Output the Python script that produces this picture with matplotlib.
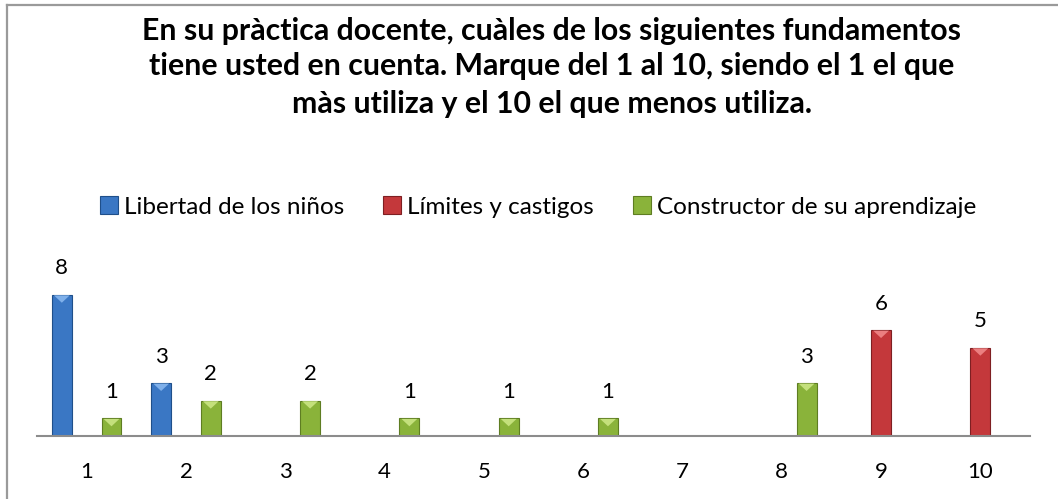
import matplotlib.pyplot as plt
import numpy as np
from matplotlib.lines import Line2D
from matplotlib.patches import Polygon

categories = ['1', '2', '3', '4', '5', '6', '7', '8', '9', '10']
series_names = ['Libertad de los niños', 'Límites y castigos', 'Constructor de su aprendizaje']
libertad = [8, 3, 0, 0, 0, 0, 0, 0, 0, 0]
limites = [0, 0, 0, 0, 0, 0, 0, 0, 6, 5]
constructor = [1, 2, 2, 1, 1, 1, 0, 3, 0, 0]

colors = ['#3a77c4', '#c4383b', '#8ab33a']
edges = ['#1f4f8a', '#7e1f22', '#5e7d22']
tops = ['#7fb0ea', '#eb7f80', '#c4e07c']

plt.rcParams['font.family'] = ['Lato', 'DejaVu Sans']

W, H = 1058, 499
fig = plt.figure(figsize=(W / 100, H / 100), dpi=100)

# page border (only top and left visible)
fig.lines.append(Line2D([7 / W, 7 / W], [0, 1 - 5 / H], transform=fig.transFigure,
                        color='#9a9a9a', linewidth=1.6))
fig.lines.append(Line2D([7 / W, 1], [1 - 5 / H, 1 - 5 / H], transform=fig.transFigure,
                        color='#9a9a9a', linewidth=1.6))

ax = fig.add_axes([37 / W, 63 / H, 993 / W, 176.5 / H])
x = np.arange(1, len(categories) + 1)
offsets = [-0.25, 0.0, 0.25]
bw = 0.2
for vals, off, c, ec, tc, name in zip([libertad, limites, constructor], offsets, colors, edges, tops, series_names):
    v = np.array(vals, dtype=float)
    bars = ax.bar(x + off, v, bw, color=c, edgecolor=ec, linewidth=0.8, label=name)
    for b, vi in zip(bars, v):
        if vi <= 0:
            continue
        bx, bt, bwid = b.get_x(), b.get_height(), b.get_width()
        # small bevel highlight at bar top
        ax.add_patch(Polygon([[bx + 0.02, bt - 0.03], [bx + bwid - 0.02, bt - 0.03],
                              [bx + bwid / 2, bt - 0.45]], closed=True, color=tc, lw=0))
        ax.text(bx + bwid / 2, bt + 1.5, str(int(vi)), ha='center', va='center', fontsize=16)

ax.set_xlim(0.5, 10.5)
ax.set_ylim(0, 10)
ax.set_xticks(x)
ax.set_xticklabels(categories, fontsize=16)
ax.tick_params(axis='x', length=0, pad=19)
ax.set_yticks([])
for s in ['top', 'right', 'left']:
    ax.spines[s].set_visible(False)
ax.spines['bottom'].set_color('#8c8c8c')
ax.spines['bottom'].set_linewidth(1.5)

title_lines = ['En su pràctica docente, cuàles de los siguientes fundamentos',
               'tiene usted en cuenta. Marque del 1 al 10, siendo el 1 el que',
               'màs utiliza y el 10 el que menos utiliza.']
for line, yb in zip(title_lines, [40, 75, 113]):
    fig.text(552 / W, 1 - yb / H, line, ha='center', va='baseline', fontsize=21.8, fontweight='bold')

fig.legend(loc='center', bbox_to_anchor=(538 / W, 1 - 207 / H), ncol=3, frameon=False,
           fontsize=17.5, handlelength=0.75, handleheight=0.7, handletextpad=0.25, columnspacing=1.6)

fig.savefig('out.png', dpi=100)
